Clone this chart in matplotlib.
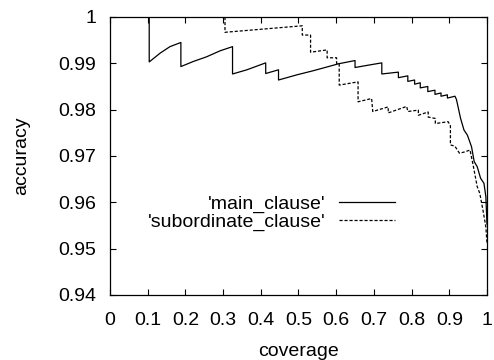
import matplotlib
matplotlib.use('Agg')
import matplotlib.pyplot as plt

plt.rcParams['font.family'] = ['Liberation Sans', 'DejaVu Sans']
plt.rcParams['font.size'] = 14

# main_clause (solid)
main_x = [0.0, 0.104, 0.104, 0.133, 0.159, 0.188, 0.188, 0.221, 0.256, 0.292, 0.325,
          0.325, 0.363, 0.413, 0.413, 0.447, 0.447, 0.495, 0.539, 0.584, 0.606, 0.650,
          0.650, 0.685, 0.721, 0.721, 0.765, 0.765, 0.790, 0.790, 0.808, 0.808, 0.823,
          0.823, 0.843, 0.843, 0.862, 0.862, 0.878, 0.878, 0.895, 0.895, 0.915, 0.919,
          0.930, 0.939, 0.948, 0.959, 0.966, 0.974, 0.983, 0.992, 0.997, 1.0]
main_y = [1.0, 1.0, 0.9903, 0.9922, 0.9936, 0.9945, 0.9893, 0.9904, 0.9914, 0.9927, 0.9936,
          0.9877, 0.9886, 0.9901, 0.9878, 0.9886, 0.9864, 0.9875, 0.9884, 0.9894, 0.9899, 0.9906,
          0.9891, 0.9896, 0.9901, 0.9877, 0.9881, 0.9869, 0.9873, 0.9861, 0.9864, 0.9855, 0.9858,
          0.9847, 0.9850, 0.9839, 0.9842, 0.9833, 0.9836, 0.9829, 0.9832, 0.9825, 0.9829, 0.9822,
          0.9781, 0.9756, 0.9745, 0.9720, 0.9688, 0.9677, 0.9652, 0.9641, 0.9612, 0.9553]

# subordinate_clause (dashed)
sub_x = [0.0, 0.305, 0.305, 0.510, 0.510, 0.532, 0.532, 0.576, 0.576, 0.601, 0.601,
         0.608, 0.608, 0.658, 0.658, 0.694, 0.697, 0.738, 0.738, 0.787, 0.790, 0.818,
         0.818, 0.844, 0.844, 0.863, 0.863, 0.897, 0.903, 0.903, 0.915, 0.927, 0.942,
         0.955, 0.964, 0.974, 0.981, 0.990, 0.997, 1.0]
sub_y = [1.0, 1.0, 0.9967, 0.9981, 0.9961, 0.9961, 0.9924, 0.9929, 0.9912, 0.9912, 0.9900,
         0.9900, 0.9853, 0.9860, 0.9817, 0.9824, 0.9796, 0.9806, 0.9793, 0.9807, 0.9796, 0.9799,
         0.9788, 0.9795, 0.9784, 0.9781, 0.9770, 0.9774, 0.9765, 0.9724, 0.9721, 0.9706, 0.9709,
         0.9713, 0.9677, 0.9634, 0.9619, 0.9580, 0.9547, 0.9512]

x_ticks = [0, 0.1, 0.2, 0.3, 0.4, 0.5, 0.6, 0.7, 0.8, 0.9, 1]
x_labels = ['0', '0.1', '0.2', '0.3', '0.4', '0.5', '0.6', '0.7', '0.8', '0.9', '1']
y_ticks = [0.94, 0.95, 0.96, 0.97, 0.98, 0.99, 1.0]
y_labels = ['0.94', '0.95', '0.96', '0.97', '0.98', '0.99', '1']

fig = plt.figure(figsize=(4.94, 3.6), dpi=100)
ax = fig.add_axes([0.2227, 0.1806, 0.7631, 0.7722])

ax.plot(main_x, main_y, color='black', lw=0.9, label="'main_clause'")
ax.plot(sub_x, sub_y, color='black', lw=0.9, dashes=[2.5, 1.5], label="'subordinate_clause'")

ax.set_xlim(0, 1)
ax.set_ylim(0.94, 1.0)
ax.set_xticks(x_ticks)
ax.set_xticklabels(x_labels)
ax.set_yticks(y_ticks)
ax.set_yticklabels(y_labels)
ax.tick_params(direction='in', length=4.5, width=0.8, top=True, right=True)
ax.tick_params(axis='y', pad=10)
ax.tick_params(axis='x', pad=12.5)
for s in ax.spines.values():
    s.set_linewidth(0.9)

ax.set_xlabel('coverage', labelpad=10)
ax.set_ylabel('accuracy', labelpad=20)

ax.legend(loc='center right', bbox_to_anchor=(0.756, 0.295), markerfirst=False,
          frameon=False, handlelength=2.9, handletextpad=0.67, labelspacing=0.0,
          borderpad=0, borderaxespad=0)

fig.savefig('out.png', dpi=100)
